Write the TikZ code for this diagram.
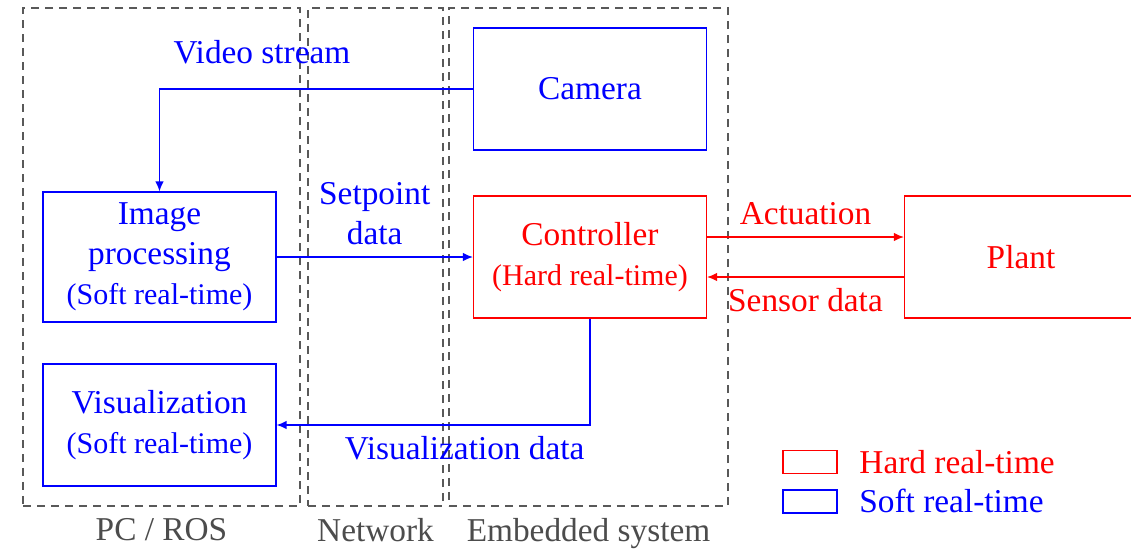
\documentclass[tikz,border=0pt]{standalone}
\usepackage{fontspec}
\setmainfont{Liberation Serif}
\usetikzlibrary{positioning,arrows.meta}

\begin{document}
\begin{tikzpicture}[x=0.3pt, y=-0.3pt, font=\fontsize{10}{12}\selectfont,
  zone/.style={draw=black!65, dash pattern=on 2.4pt off 1.8pt, minimum height=149.4pt, inner sep=0pt},
  zlbl/.style={text=black!70},
  blk/.style={draw, align=center, minimum width=69.9pt, minimum height=36.6pt, inner sep=0pt},
  hard/.style={blk, red},
  soft/.style={blk, blue},
  key/.style={draw, minimum width=16.2pt, minimum height=6.9pt, inner sep=0pt},
  >={Latex[length=3pt, width=2.6pt]}]
\useasboundingbox (0,0) rectangle (1131,548);
% domains
\node[zone, minimum width=83.1pt, label={[zlbl]below:PC / ROS}] (pc) at (161.5,257) {};
\node[zone, minimum width=40.5pt, label={[zlbl]below:Network}] (net) at (375.5,257) {};
\node[zone, minimum width=83.7pt, label={[zlbl]below:Embedded system}] (emb) at (588.5,257) {};
% blocks
\node[soft] (cam) at (590,89) {Camera};
\node[hard] (ctrl) at (590,257) {Controller\\{\small(Hard real-time)}};
\node[hard] (plant) at (1021,257) {Plant};
\node[soft, minimum height=39pt] (img) at (159.5,257) {Image\\processing\\{\small(Soft real-time)}};
\node[soft] (vis) at (159.5,425) {Visualization\\{\small(Soft real-time)}};
% signals
\draw[blue, ->] (cam.west) -| (img.north);
\node[blue] (vslbl) at (262,52) {Video stream};
\draw[blue, ->] (img.east) -- node[above, align=center]{Setpoint\\data} (ctrl.west);
\draw[red, ->] ([yshift=6pt]ctrl.east) -- node[above]{Actuation} ([yshift=6pt]plant.west);
\draw[red, ->] ([yshift=-6pt]plant.west) -- node[below]{Sensor data} ([yshift=-6pt]ctrl.east);
\draw[blue, ->] (ctrl.south) |- node[below, pos=0.7]{Visualization data} (vis.east);
% legend
\node[key, red] (khard) at (810,462) {};
\node[key, blue, below=4.5pt of khard] (ksoft) {};
\node[red, right=3pt of khard] (thard) {Hard real-time};
\node[blue, right=3pt of ksoft] (tsoft) {Soft real-time};
\end{tikzpicture}
\end{document}
